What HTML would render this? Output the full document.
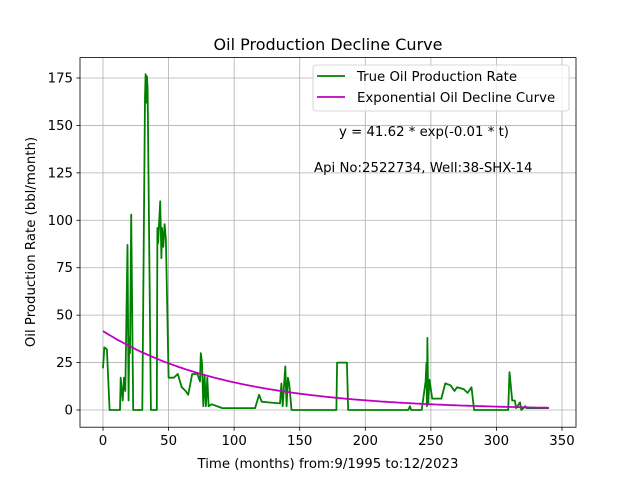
<!DOCTYPE html>
<html><head><meta charset="utf-8"><style>
body{margin:0;background:#fff}
svg{font-family:"DejaVu Sans","Liberation Sans",sans-serif}
</style></head><body>
<svg id="chart" width="640" height="480" viewBox="0 0 640 480" xmlns="http://www.w3.org/2000/svg">
<rect width="640" height="480" fill="#fff"/>
<g id="grid"></g>
<g id="series"></g>
<rect x="80" y="57.6" width="496" height="369.6" fill="none" stroke="#000" stroke-width="0.8"/>
<g id="ticks"></g>
<text x="328" y="50" text-anchor="middle" font-size="16">Oil Production Decline Curve</text>
<text x="328" y="468" text-anchor="middle" font-size="13.3">Time (months) from:9/1995 to:12/2023</text>
<text transform="translate(35,242) rotate(-90)" text-anchor="middle" font-size="13.3">Oil Production Rate (bbl/month)</text>
<g>
<rect x="313" y="65" width="256" height="46" rx="3" fill="#fff" fill-opacity="0.8" stroke="#ccc" stroke-width="0.8"/>
<line x1="317" y1="76" x2="345" y2="76" stroke="green" stroke-width="1.8"/>
<text x="357" y="81" font-size="13.3">True Oil Production Rate</text>
<line x1="317" y1="97" x2="345" y2="97" stroke="#bf00bf" stroke-width="1.8"/>
<text x="357" y="102" font-size="13.3">Exponential Oil Decline Curve</text>
</g>
<text x="339" y="136" font-size="13.3">y = 41.62 * exp(-0.01 * t)</text>
<text x="314" y="172" font-size="13.3">Api No:2522734, Well:38-SHX-14</text>
</svg>
<script>
const months=[0,1,3,5,13,13.5,15,16,17,18.7,19.5,20,20.6,21.5,23,30,32,32.5,33,33.5,34,36.5,41,41.5,42,43.6,44.5,45,46,47,48,50,54,57,60,63,65,68,72,74,74.6,75.5,76.5,77.5,78.5,79.5,80.5,83,91,116,119,121,126,135,136,137,139,140,141,142,143.7,178,178.5,186,187,232.7,234,235,243,246,246.7,247,247.4,248,249,251,258,261,265,268,270,275,278,281,283,309,310,312,314,315,318,319,322,323,340];
const rates=[22,33,32,0,0,17,5,17,10,87,5,38,30,103,0,0,165,177,162,176,170,0,0,96,88,110,80,96,86,98,90,17,17,19,12,10,8,19,19,15,30,25,2,18,2,17,2,3,1,1,8,4.4,4,3.5,14,2,23,2,17,14,0,0,25,25,0,0,2,0,0,15,25,2,38,3,16,6,6,14,13,10,12,11,9,12,0,0,20,5,5,1,4,0,2,1,1];
const curveA=41.62, curveK=0.0105, curveEnd=340;
const xTicks=[0,50,100,150,200,250,300,350];
const yTicks=[0,25,50,75,100,125,150,175];
const NS="http://www.w3.org/2000/svg";
const X=m=>103+m*(459/350);
const Y=v=>410-v*(332/175);
function mk(t,a,p){const e=document.createElementNS(NS,t);for(const k in a)e.setAttribute(k,a[k]);p.appendChild(e);return e;}
const grid=document.getElementById('grid'),ticks=document.getElementById('ticks'),series=document.getElementById('series');
xTicks.forEach(t=>{
 const g=mk('line',{x1:X(t),x2:X(t),y1:57.6,y2:427.2,stroke:'#b0b0b0','stroke-width':0.8},grid);
 
 
 const k=mk('line',{x1:X(t),x2:X(t),y1:427.2,y2:430.7,stroke:'#000','stroke-width':0.8},ticks);
 
 
 const l=mk('text',{x:X(t),y:445,'text-anchor':'middle','font-size':13.3},ticks);
 
 
 l.textContent=t;
});
yTicks.forEach(t=>{
 const g=mk('line',{x1:80,x2:576,y1:Y(t),y2:Y(t),stroke:'#b0b0b0','stroke-width':0.8},grid);
 
 
 const k=mk('line',{x1:76.5,x2:80,y1:Y(t),y2:Y(t),stroke:'#000','stroke-width':0.8},ticks);
 
 
 const l=mk('text',{x:73,y:Y(t)+4.5,'text-anchor':'end','font-size':13.3},ticks);
 
 
 l.textContent=t;
});
let d='';months.forEach((m,i)=>{d+=(i?'L':'M')+X(m).toFixed(1)+','+Y(rates[i]).toFixed(1);});
const p1=mk('path',{d:d,fill:'none',stroke:'green','stroke-width':1.8,'stroke-linejoin':'round'},series);


let d2='';for(let t=0;t<=curveEnd;t++){d2+=(t?'L':'M')+X(t).toFixed(1)+','+Y(curveA*Math.exp(-curveK*t)).toFixed(1);}
const p2=mk('path',{d:d2,fill:'none',stroke:'#bf00bf','stroke-width':1.8},series);


</script>
</body></html>
